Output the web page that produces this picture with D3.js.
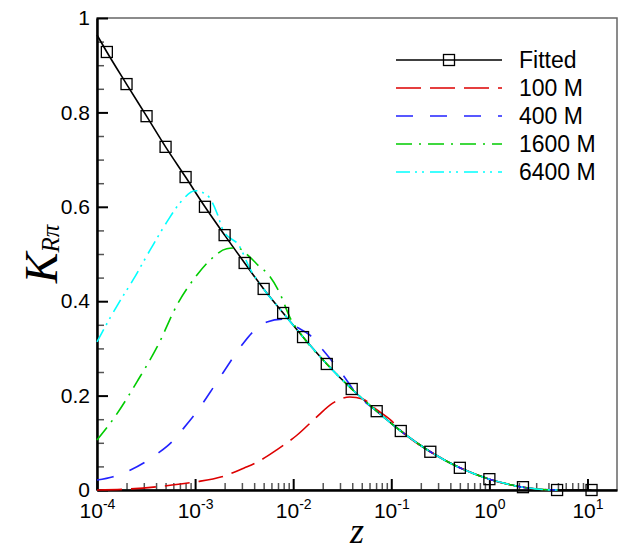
<!DOCTYPE html>
<html>
<head>
<title>K R-pi vs z</title>
<style>
body { margin: 0; background: #fff; }
text { font-family: Arial, "Liberation Sans", sans-serif; }
</style>
<script type="text/javascript" src="https://d3js.org/d3.v7.min.js"></script>
</head>
<body>
<svg id="chart" width="625" height="550"></svg>
<script type="text/javascript">
// fitted curve (first point is line start, the rest carry square markers)
const fitZ = [1e-4, 1.26e-4, 2e-4, 3.2e-4, 5e-4, 8e-4, 1.26e-3, 2e-3, 3.2e-3, 5e-3, 7.9e-3, 1.26e-2, 2.2e-2, 3.95e-2, 7.1e-2, 0.125, 0.25, 0.5, 1.0, 2.2, 4.9, 11];
const fitK = [0.964, 0.928, 0.860, 0.792, 0.727, 0.663, 0.600, 0.540, 0.481, 0.426, 0.375, 0.324, 0.267, 0.214, 0.167, 0.125, 0.081, 0.047, 0.023, 0.006, 0.0, 0.0];

const z100 = [1e-4, 2.07e-4, 4.6e-4, 1e-3, 1.87e-3, 3.2e-3, 4.3e-3, 6.8e-3, 1.09e-2, 1.74e-2, 2.53e-2, 3.77e-2, 5.1e-2, 7.1e-2, 0.1, 0.125, 0.25, 0.5, 1.0, 2.2, 3.5, 5];
const k100 = [0.000, 0.002, 0.008, 0.017, 0.028, 0.047, 0.059, 0.085, 0.116, 0.155, 0.184, 0.197, 0.193, 0.170, 0.147, 0.126, 0.081, 0.047, 0.023, 0.006, 0.001, 0.0];

const z400 = [1e-4, 1.46e-4, 2.17e-4, 3.08e-4, 4.2e-4, 5.8e-4, 7.5e-4, 9.5e-4, 1.2e-3, 1.52e-3, 1.92e-3, 3.0e-3, 3.8e-3, 5.4e-3, 7.7e-3, 1.09e-2, 1.48e-2, 2.0e-2, 3.2e-2, 4.5e-2, 7.1e-2, 0.125, 0.25, 0.5, 1.0, 2.2, 3.5, 5];
const k400 = [0.021, 0.028, 0.042, 0.059, 0.078, 0.102, 0.129, 0.155, 0.184, 0.216, 0.248, 0.307, 0.333, 0.356, 0.362, 0.345, 0.328, 0.297, 0.244, 0.202, 0.167, 0.125, 0.081, 0.047, 0.023, 0.006, 0.001, 0.0];

const z1600 = [1e-4, 1.52e-4, 2.62e-4, 4.1e-4, 6.7e-4, 1.04e-3, 1.42e-3, 2.1e-3, 2.67e-3, 3.6e-3, 4.6e-3, 5.4e-3, 7.3e-3, 9.2e-3, 1.26e-2, 2.2e-2, 3.95e-2, 7.1e-2, 0.125, 0.25, 0.5, 1.0, 2.2, 3.5, 5];
const k1600 = [0.106, 0.155, 0.233, 0.303, 0.396, 0.455, 0.487, 0.511, 0.513, 0.494, 0.472, 0.460, 0.417, 0.367, 0.324, 0.267, 0.214, 0.167, 0.125, 0.081, 0.047, 0.023, 0.006, 0.001, 0.0];

const z6400 = [1e-4, 1.355e-4, 1.71e-4, 2.33e-4, 3.47e-4, 5.16e-4, 7.0e-4, 1e-3, 1.32e-3, 1.67e-3, 1.92e-3, 2.86e-3, 3.6e-3, 5e-3, 7.9e-3, 1.26e-2, 2.2e-2, 3.95e-2, 7.1e-2, 0.125, 0.25, 0.5, 1.0, 2.2, 3.5, 5];
const k6400 = [0.314, 0.364, 0.400, 0.445, 0.508, 0.568, 0.608, 0.634, 0.625, 0.587, 0.551, 0.515, 0.470, 0.426, 0.375, 0.324, 0.267, 0.214, 0.167, 0.125, 0.081, 0.047, 0.023, 0.006, 0.001, 0.0];

const legendLabels = ["Fitted", "100 M", "400 M", "1600 M", "6400 M"];
const xMajorTicks = [1e-4, 1e-3, 1e-2, 1e-1, 1e0, 1e1];
const xTickExp = ["-4", "-3", "-2", "-1", "0", "1"];
const yMajorTicks = [0, 0.2, 0.4, 0.6, 0.8, 1];
const yTickLabels = ["0", "0.2", "0.4", "0.6", "0.8", "1"];

const svg = d3.select("#chart");
const LEFT = 97, RIGHT = 617, TOP = 18, BOTTOM = 490;

const x = d3.scaleLog().domain([1e-4, 20]).range([LEFT, RIGHT]);
const y = d3.scaleLinear().domain([0, 1]).range([BOTTOM, TOP]);

// frame
svg.append("rect")
   .attr("x", LEFT).attr("y", TOP)
   .attr("width", RIGHT - LEFT).attr("height", BOTTOM - TOP)
   .style("fill", "none").style("stroke", "#666").style("stroke-width", 1.5);

// minor ticks
const xMinor = [];
for (let d = -4; d <= 0; d++) {
    for (let k = 2; k <= 9; k++) xMinor.push(k * Math.pow(10, d));
}
const yMinor = d3.range(0, 1.0001, 0.05).filter(v => Math.abs(v * 5 - Math.round(v * 5)) > 1e-6);

const gxMinor = svg.append("g")
   .attr("transform", `translate(0, ${BOTTOM})`)
   .call(d3.axisBottom(x).tickValues(xMinor).tickSize(-7).tickFormat(""));
gxMinor.select(".domain").remove();
gxMinor.selectAll("line").style("stroke", "#555").style("stroke-width", 1.5);

const gyMinor = svg.append("g")
   .attr("transform", `translate(${LEFT}, 0)`)
   .call(d3.axisLeft(y).tickValues(yMinor).tickSize(-7).tickFormat(""));
gyMinor.select(".domain").remove();
gyMinor.selectAll("line").style("stroke", "#555").style("stroke-width", 1.5);

// major axes
const gx = svg.append("g")
   .attr("transform", `translate(0, ${BOTTOM})`)
   .call(d3.axisBottom(x).tickValues(xMajorTicks).tickSizeInner(-11).tickSizeOuter(0).tickPadding(13).tickFormat(""));
gx.select(".domain").style("stroke-width", 2.5);
gx.selectAll("line").style("stroke-width", 2);
gx.selectAll(".tick text").each(function(d, i) {
    const t = d3.select(this).style("font-size", "21px").attr("fill", "#000");
    t.append("tspan").text("10");
    t.append("tspan").text(xTickExp[i]).style("font-size", "14px").attr("dy", "-9");
});

const gy = svg.append("g")
   .attr("transform", `translate(${LEFT}, 0)`)
   .call(d3.axisLeft(y).tickValues(yMajorTicks).tickSizeInner(-11).tickSizeOuter(0).tickPadding(7)
         .tickFormat((d, i) => yTickLabels[i]));
gy.select(".domain").style("stroke-width", 2.5);
gy.selectAll("line").style("stroke-width", 2);
gy.selectAll(".tick text").style("font-size", "21px").attr("fill", "#000");

// curves
const line = d3.line()
   .x(d => x(d[0]))
   .y(d => y(d[1]))
   .curve(d3.curveMonotoneX);

const series = [
    { z: fitZ, k: fitK, color: "#000", dash: null },
    { z: z100, k: k100, color: "#dd0000", dash: "25,9" },
    { z: z400, k: k400, color: "#2222ff", dash: "17,17" },
    { z: z1600, k: k1600, color: "#00cc00", dash: "16,7,2,7" },
    { z: z6400, k: k6400, color: "#00ffff", dash: "14,5,2,5,2,6" }
];

series.forEach(s => {
    svg.append("path")
       .datum(d3.zip(s.z, s.k))
       .attr("d", line)
       .style("fill", "none")
       .style("stroke", s.color)
       .style("stroke-width", 1.6)
       .style("stroke-dasharray", s.dash);
});

// fitted markers
svg.append("g").selectAll("rect")
   .data(d3.zip(fitZ, fitK).slice(1))
   .join("rect")
   .attr("x", d => x(d[0]) - 5.5)
   .attr("y", d => y(d[1]) - 5.5)
   .attr("width", 11).attr("height", 11)
   .style("fill", "none").style("stroke", "#000").style("stroke-width", 1.3);

// legend
const legend = svg.append("g");
const LEG_Y0 = 60, LEG_STEP = 28;
legendLabels.forEach((lab, i) => {
    const ly = LEG_Y0 + i * LEG_STEP;
    legend.append("line")
          .attr("x1", 396).attr("x2", 502).attr("y1", ly).attr("y2", ly)
          .style("stroke", series[i].color).style("stroke-width", 1.6)
          .style("stroke-dasharray", series[i].dash);
    if (i === 0) {
        legend.append("rect")
              .attr("x", 449 - 5.5).attr("y", ly - 5.5).attr("width", 11).attr("height", 11)
              .style("fill", "none").style("stroke", "#000").style("stroke-width", 1.3);
    }
    legend.append("text")
          .attr("x", 519).attr("y", ly + 8)
          .style("font-size", "23px")
          .text(lab);
});

// axis titles
const yt = svg.append("text")
   .attr("transform", `translate(57, ${(TOP + BOTTOM) / 2}) rotate(-90)`)
   .attr("text-anchor", "middle")
   .style("font-family", "'Times New Roman', 'Liberation Serif', serif")
   .style("font-style", "italic");
yt.append("tspan").text("K").style("font-size", "46px");
yt.append("tspan").text("Rπ").style("font-size", "25px").attr("dy", "2");

svg.append("text")
   .attr("x", (LEFT + RIGHT) / 2).attr("y", 543)
   .attr("text-anchor", "middle")
   .style("font-family", "'Times New Roman', 'Liberation Serif', serif")
   .style("font-style", "italic")
   .style("font-size", "36px")
   .text("z");
</script>
</body>
</html>
